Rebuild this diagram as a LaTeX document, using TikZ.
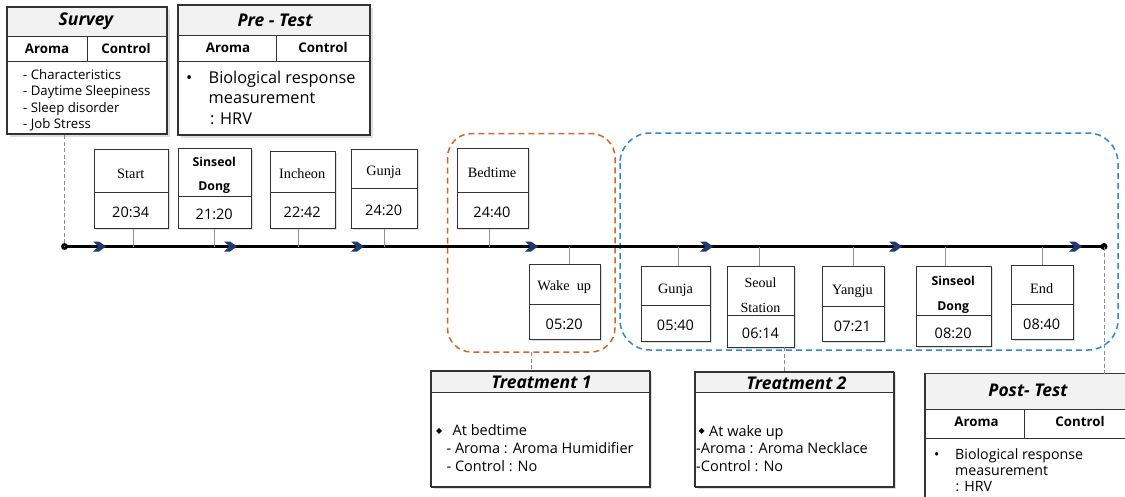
\documentclass[tikz,border=0pt]{standalone}
\usepackage{fontspec}
\setmainfont{Open Sans}
\newfontfamily\stf{Liberation Serif}
\newfontfamily\dvs{DejaVu Sans}
\usetikzlibrary{shadows}
\definecolor{navyc}{HTML}{1F3A6E}
\definecolor{orangec}{HTML}{D0652A}
\definecolor{bluec}{HTML}{2F86D2}
\definecolor{titlef}{HTML}{F2F2F2}
\definecolor{edgec}{HTML}{333333}
\tikzset{
  frame/.style={draw=edgec, line width=1.3pt, fill=white, inner sep=0pt,
    drop shadow={shadow xshift=2pt, shadow yshift=-2pt, opacity=0.25}},
  stbox/.style={draw=edgec, line width=1.2pt, fill=white, inner sep=0pt,
    drop shadow={shadow xshift=1.5pt, shadow yshift=-1.5pt, opacity=0.25}},
  rim/.style={draw=edgec, line width=1.3pt},
  inner/.style={draw=edgec, line width=1pt},
  conn/.style={draw=gray!85, line width=0.8pt},
  dconn/.style={draw=gray!90, line width=0.8pt, dash pattern=on 4pt off 2.5pt},
  ttl/.style={font=\bfseries\itshape\fontsize{17.5}{19}\selectfont},
  hdr/.style={font=\bfseries\fontsize{13.3}{15}\selectfont},
  stname/.style={font=\stf\fontsize{14.3}{16}\selectfont},
  stbold/.style={font=\bfseries\fontsize{12.3}{24.5}\selectfont, align=center},
  sttwo/.style={font=\stf\fontsize{14}{25}\selectfont, align=center},
  sttime/.style={font=\fontsize{14.5}{16}\selectfont},
  body/.style={anchor=base west, inner sep=0pt},
  chev/.style={fill=navyc},
  dot/.style={circle, fill=black, inner sep=0pt, minimum size=7pt}
}
\newcommand\stn[8]{%
  \node[stbox, anchor=north west, minimum width={(#4-#2)*1pt}, minimum height={(#5-#3)*1pt}] (#1) at (#2,#3) {};
  \draw[inner] (#2,#6) -- (#4,#6);
  \node[sttime] (#1t) at ({(#2+#4)/2},{(#6+#5)/2+2.5}) {#8};
}
\newcommand\chevron[1]{%
  \fill[chev] (#1-7,241.5) -- (#1-1,241.5) -- (#1+6,246.5) -- (#1-1,251.5) -- (#1-7,251.5) -- (#1-1.5,246.5) -- cycle;
}
\begin{document}
\begin{tikzpicture}[x=1pt,y=-1pt]
\useasboundingbox (0,0) rectangle (1125,496);

% ---------- Survey ----------
\node[frame, anchor=north west, minimum width=160pt, minimum height=127pt] (survey) at (7,7) {};
\fill[titlef] (7,7) rectangle (167,36.5);
\draw[inner] (7,36.5) -- (167,36.5);
\draw[inner] (7,61) -- (167,61);
\draw[inner] (87,36.5) -- (87,61);
\draw[rim] (7,7) rectangle (167,134);
\node[ttl] (surveyt) at (86,21.5) {Survey};
\node[hdr] (surveya) at (47,49) {Aroma};
\node[hdr] (surveyc) at (126,49) {Control};
\node[body, font=\fontsize{13.2}{15}\selectfont] (sv1) at (23,79.5) {- Characteristics};
\node[body, font=\fontsize{13.2}{15}\selectfont] (sv2) at (23,95.5) {- Daytime Sleepiness};
\node[body, font=\fontsize{13.2}{15}\selectfont] (sv3) at (23,112) {- Sleep disorder};
\node[body, font=\fontsize{13.2}{15}\selectfont] (sv4) at (23,128.5) {- Job Stress};

% ---------- Pre-Test ----------
\node[frame, anchor=north west, minimum width=192pt, minimum height=130pt] (pre) at (178,5) {};
\fill[titlef] (178,5) rectangle (370,35);
\draw[inner] (178,35) -- (370,35);
\draw[inner] (178,61) -- (370,61);
\draw[inner] (276,35) -- (276,61);
\draw[rim] (178,5) rectangle (370,135);
\node[ttl] (pret) at (275,20.5) {Pre - Test};
\node[hdr] (prea) at (228,48) {Aroma};
\node[hdr] (prec) at (323,48) {Control};
\node[body, font=\fontsize{16.3}{18}\selectfont] (pb0) at (186,83) {•};
\node[body, font=\fontsize{16.3}{18}\selectfont] (pb1) at (208.5,83) {Biological response};
\node[body, font=\fontsize{16.3}{18}\selectfont] (pb2) at (208.5,103) {measurement};
\node[body, font=\fontsize{16.3}{18}\selectfont] (pb3) at (210,124) {: HRV};

% ---------- dashed groups ----------
\draw[orangec, line width=1.5pt, dash pattern=on 6pt off 4pt, rounded corners=24pt] (447.5,133.5) rectangle (615,352);
\draw[bluec, line width=1.5pt, dash pattern=on 6pt off 4pt, rounded corners=30pt] (620,133) rectangle (1118,350);
\coordinate (orangebot) at (531.5,352);

% ---------- timeline ----------
\node[dot] (tlstart) at (64.5,246.5) {};
\node[dot] (tlend) at (1104,246.5) {};
\draw[black, line width=2.6pt] (tlstart.center) -- (tlend.center);
\chevron{100}
\chevron{231}
\chevron{358}
\chevron{532}
\chevron{707}
\chevron{896}
\chevron{1076}

% ---------- stations above ----------
\stn{start}{93.5}{148.5}{168}{228}{192.5}{}{20:34}
\node[stname] at (130.75,173.5) {Start};
\stn{sinseolA}{177.5}{148}{251}{228}{196}{}{21:20}
\node[stbold] at (214.25,175.5) {Sinseol\\Dong};
\stn{incheon}{269.5}{150.5}{335}{228}{192.5}{}{22:42}
\node[stname] at (302.25,173.5) {Incheon};
\stn{gunjaA}{351}{148.5}{416.5}{228}{188}{}{24:20}
\node[stname] at (383.75,172.5) {Gunja};
\stn{bedtime}{456.5}{147.5}{527.5}{228}{192}{}{24:40}
\node[stname] at (492,172.5) {Bedtime};

% ---------- stations below ----------
\stn{wakeup}{528.5}{264}{600}{339}{304}{}{05:20}
\node[stname] at (564.25,287.5) {Wake\hspace{0.5em}up};
\stn{gunjaB}{641}{265.5}{710}{340.5}{305}{}{05:40}
\node[stname] at (675.5,290) {Gunja};
\stn{seoul}{727}{265.5}{794}{346.5}{315}{}{06:14}
\node[sttwo] at (760.5,295) {Seoul\\Station};
\stn{yangju}{821.5}{266}{883.5}{341}{306.5}{}{07:21}
\node[stname] at (852.5,291) {Yangju};
\stn{sinseolB}{916}{265.5}{990.5}{345.5}{315.5}{}{08:20}
\node[stbold] at (953.25,295) {Sinseol\\Dong};
\stn{endst}{1011}{264.5}{1072.5}{339}{304.5}{}{08:40}
\node[stname] at (1041.75,288.5) {End};

% ---------- station connectors ----------
\foreach \n/\dx in {start/2.5, sinseolA/-0.75, incheon/-4, gunjaA/0, bedtime/-3.7}
  \draw[conn] ([xshift=\dx pt]\n.south) -- ([xshift=\dx pt]\n.south |- tlstart);
\foreach \n/\dx in {wakeup/4.75, gunjaB/2.2, seoul/-2.2, yangju/0, sinseolB/-8, endst/0}
  \draw[conn] ([xshift=\dx pt]\n.north |- tlstart) -- ([xshift=\dx pt]\n.north);

% ---------- Treatment 1 ----------
\node[frame, anchor=north west, minimum width=218.5pt, minimum height=115.5pt] (tr1) at (431,371) {};
\fill[titlef] (431,371) rectangle (649.5,392);
\draw[inner] (431,392) -- (649.5,392);
\draw[rim] (431,371) rectangle (649.5,486.5);
\node[ttl] (tr1t) at (541.5,382) {Treatment 1};
\node[body, font=\dvs\fontsize{8}{10}\selectfont] (t1b) at (436,433) {◆};
\node[body, font=\fontsize{14.5}{16}\selectfont] (t1l1) at (452.5,435.5) {At bedtime};
\node[body, font=\fontsize{14.5}{16}\selectfont] (t1l2) at (444,453.5) {\,- Aroma : Aroma Humidifier};
\node[body, font=\fontsize{14.5}{16}\selectfont] (t1l3) at (444,471) {\,- Control : No};
\draw[dconn] (orangebot) -- (tr1.north -| orangebot);

% ---------- Treatment 2 ----------
\node[frame, anchor=north west, minimum width=198.5pt, minimum height=114.5pt] (tr2) at (695,372) {};
\fill[titlef] (695,372) rectangle (893.5,392.5);
\draw[inner] (695,392.5) -- (893.5,392.5);
\draw[rim] (695,372) rectangle (893.5,486.5);
\node[ttl] (tr2t) at (796.5,383.5) {Treatment 2};
\node[body, font=\dvs\fontsize{8}{10}\selectfont] (t2b) at (698.5,433.5) {◆};
\node[body, font=\fontsize{14.5}{16}\selectfont] (t2l1) at (709,436) {At wake up};
\node[body, font=\fontsize{14.5}{16}\selectfont] (t2l2) at (696,453.5) {-Aroma : Aroma Necklace};
\node[body, font=\fontsize{14.5}{16}\selectfont] (t2l3) at (696,471) {-Control : No};
\coordinate (seoulbot) at (784.5,347);
\draw[dconn] (seoulbot) -- (tr2.north -| seoulbot);

% ---------- Post-Test ----------
\node[frame, anchor=north west, minimum width=210pt, minimum height=130pt] (post) at (925,373.5) {};
\fill[titlef] (925,373.5) rectangle (1135,409);
\draw[inner] (925,409) -- (1135,409);
\draw[inner] (925,438) -- (1135,438);
\draw[inner] (1024,409) -- (1024,438);
\draw[rim] (925,373.5) rectangle (1135,503.5);
\node[ttl] (postt) at (1028,390) {Post- Test};
\node[hdr] (posta) at (976.5,422) {Aroma};
\node[hdr] (postc) at (1080,422) {Control};
\node[body, font=\fontsize{14.2}{16}\selectfont] (qb0) at (934,459) {•};
\node[body, font=\fontsize{14.2}{16}\selectfont] (qb1) at (955,459) {Biological response};
\node[body, font=\fontsize{14.2}{16}\selectfont] (qb2) at (955,475) {measurement};
\node[body, font=\fontsize{14.2}{16}\selectfont] (qb3) at (955.5,491.5) {: HRV};
\draw[dconn] (tlend.center) -- (tlend.center |- post.north);

% survey connector
\draw[dconn] (survey.south -| tlstart) -- (tlstart.center);
\end{tikzpicture}
\end{document}
